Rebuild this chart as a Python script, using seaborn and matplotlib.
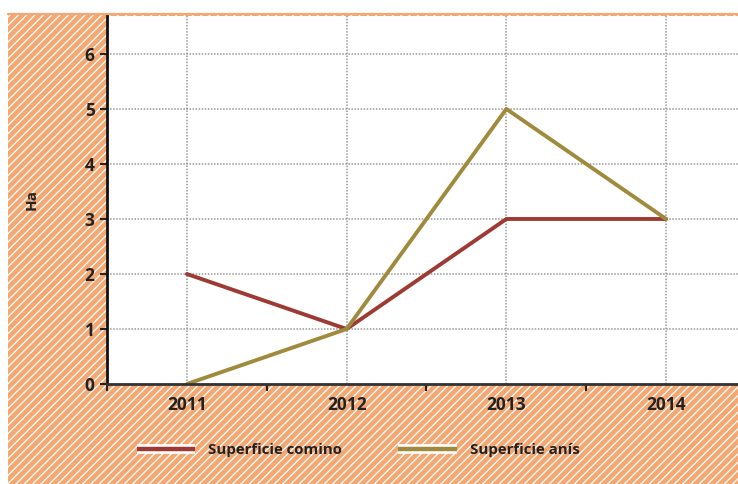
import numpy as np
import pandas as pd
import matplotlib
matplotlib.use("Agg")
import matplotlib.pyplot as plt
import matplotlib.patheffects as pe
from matplotlib.patches import Rectangle
from matplotlib.lines import Line2D
import seaborn as sns

years = [2011, 2012, 2013, 2014]
comino = [2, 1, 3, 3]
anis = [0, 1, 5, 3]
series_names = ["Superficie comino", "Superficie anís"]
colors = ["#9C3A33", "#A08A3C"]
orange = "#F3A873"

df = pd.DataFrame({
    "year": years * 2,
    "value": comino + anis,
    "serie": [series_names[0]] * len(years) + [series_names[1]] * len(years),
})

sns.set_style("white")
plt.rcParams["font.family"] = ["Open Sans", "DejaVu Sans"]
plt.rcParams["font.weight"] = "bold"
plt.rcParams["hatch.linewidth"] = 0.9

fig = plt.figure(figsize=(7.38, 4.84), dpi=100)
fig.patch.set_facecolor("white")

# hatched orange background behind the axes
bg = Rectangle((8 / 738, 0), 1 - 8 / 738, 1 - 14 / 484, transform=fig.transFigure,
               facecolor=orange, edgecolor="white", hatch="////", linewidth=0, zorder=-5)
fig.add_artist(bg)
fig.add_artist(Line2D([8 / 738, 1], [1 - 14 / 484, 1 - 14 / 484], transform=fig.transFigure,
                      color=orange, lw=1.6, zorder=-4))

ax = fig.add_axes([107 / 738, 1 - 384 / 484, 1 - 107 / 738, (384 - 16) / 484])
ax.set_zorder(1)
ax.set_facecolor("white")

sns.lineplot(data=df, x="year", y="value", hue="serie", palette=colors,
             linewidth=2.8, ax=ax, legend=False)

ax.set_xlim(2010.5, 2014.45)
ax.set_ylim(0, 6.69)
ax.set_xticks(years)
ax.set_xticklabels([str(y) for y in years])
ax.set_xticks([2010.5, 2011.5, 2012.5, 2013.5], minor=True)
ax.set_yticks(range(0, 7))
ax.tick_params(axis="x", which="major", length=0, pad=9, labelsize=12.5, labelcolor="#222222")
ax.tick_params(axis="x", which="minor", length=5, width=1.5, color="#222222", direction="out", bottom=True)
ax.tick_params(axis="y", length=5, width=1.5, color="#222222", pad=4, labelsize=12.5,
               labelcolor="#222222", direction="out", left=True)

ax.grid(True, which="major", color="#999999", linestyle=(0, (1, 1)), linewidth=1.1)
ax.set_axisbelow(True)

for s in ["top", "right"]:
    ax.spines[s].set_visible(False)
ax.spines["left"].set_color("#111111")
ax.spines["left"].set_linewidth(2)
ax.spines["bottom"].set_color("#333333")
ax.spines["bottom"].set_linewidth(2)

ax.set_xlabel("")
ax.set_ylabel("Ha", fontsize=11, fontweight="bold", color="#222222", labelpad=33)

handles = [Line2D([0], [0], color=c, lw=3.2, solid_capstyle="butt",
                  path_effects=[pe.Stroke(linewidth=7, foreground="white", capstyle="butt"), pe.Normal()])
           for c in colors]
fig.legend(handles, series_names, loc="center left", bbox_to_anchor=(123 / 738, 1 - 450 / 484),
           ncol=2, frameon=False, fontsize=10.8, handlelength=3.9, handletextpad=0.9,
           columnspacing=3.7, labelcolor="#222222")

fig.savefig("out.png", dpi=100)
